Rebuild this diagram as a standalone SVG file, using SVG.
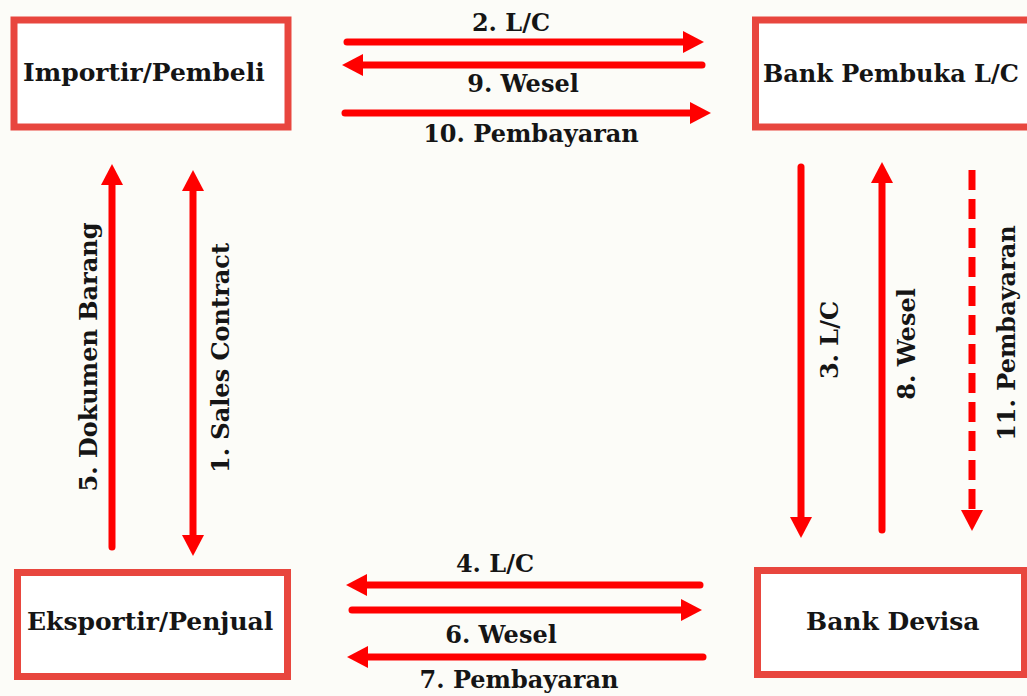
<svg xmlns="http://www.w3.org/2000/svg" width="1027" height="696" viewBox="0 0 1027 696">
  <style>
    .box { fill: #ffffff; stroke: #e8463e; stroke-width: 7; }
    .nl { font-family: "DejaVu Serif", "Liberation Serif", serif; font-weight: bold; font-size: 25px; fill: #151515; }
    .el { font-family: "DejaVu Serif", "Liberation Serif", serif; font-weight: bold; font-size: 24px; fill: #151515; text-anchor: middle; }
    .ar { stroke: #ff0000; stroke-width: 7; fill: none; stroke-linecap: round; marker-end: url(#head); }
    .dash { stroke-dasharray: 20 9; stroke-linecap: butt; }
  </style>
  <defs>
    <marker id="head" markerUnits="userSpaceOnUse" markerWidth="22" markerHeight="22" refX="0" refY="11" orient="auto-start-reverse" viewBox="0 0 22 22">
      <path d="M0,0 L21,11 L0,22 z" fill="#ff0000"/>
    </marker>
  </defs>
  <rect width="1027" height="696" fill="#fcfcf8"/>

  <g id="importir">
    <rect class="box" x="14" y="20" width="274" height="107"/>
    <text class="nl" x="23" y="81">Importir/Pembeli</text>
  </g>
  <g id="bank-pembuka">
    <rect class="box" x="755.5" y="20" width="290" height="107"/>
    <text class="nl" x="763" y="82" style="font-size:24px">Bank Pembuka L/C</text>
  </g>
  <g id="eksportir">
    <rect class="box" x="17.5" y="572.5" width="270" height="104"/>
    <text class="nl" x="27" y="630">Eksportir/Penjual</text>
  </g>
  <g id="bank-devisa">
    <rect class="box" x="757.5" y="570.5" width="267" height="104"/>
    <text class="nl" x="806" y="630">Bank Devisa</text>
  </g>

  <g id="connectors">
    <line class="ar" x1="347" y1="42" x2="683" y2="42"/>
    <line class="ar" x1="702" y1="65" x2="363" y2="65"/>
    <line class="ar" x1="345" y1="113" x2="690" y2="113"/>
    <line class="ar" x1="700" y1="585" x2="367" y2="585"/>
    <line class="ar" x1="352" y1="610" x2="681" y2="610"/>
    <line class="ar" x1="703" y1="657" x2="368" y2="657"/>
    <line class="ar" x1="112" y1="547" x2="112" y2="185"/>
    <line class="ar" x1="193" y1="191" x2="193" y2="535" style="marker-start: url(#head)"/>
    <line class="ar" x1="801" y1="167" x2="801" y2="517"/>
    <line class="ar" x1="882" y1="530" x2="882" y2="183"/>
    <line class="ar dash" x1="972" y1="170" x2="972" y2="510"/>

    <text class="el" x="511" y="31">2. L/C</text>
    <text class="el" x="523" y="92">9. Wesel</text>
    <text class="el" x="531" y="142">10. Pembayaran</text>
    <text class="el" x="495" y="572">4. L/C</text>
    <text class="el" x="501" y="643">6. Wesel</text>
    <text class="el" x="519" y="688">7. Pembayaran</text>
    <text class="el" transform="translate(97,357) rotate(-90)">5. Dokumen Barang</text>
    <text class="el" transform="translate(229,358) rotate(-90)">1. Sales Contract</text>
    <text class="el" transform="translate(838,340) rotate(-90)">3. L/C</text>
    <text class="el" transform="translate(915,344) rotate(-90)">8. Wesel</text>
    <text class="el" transform="translate(1015,333) rotate(-90)">11. Pembayaran</text>
  </g>
</svg>
